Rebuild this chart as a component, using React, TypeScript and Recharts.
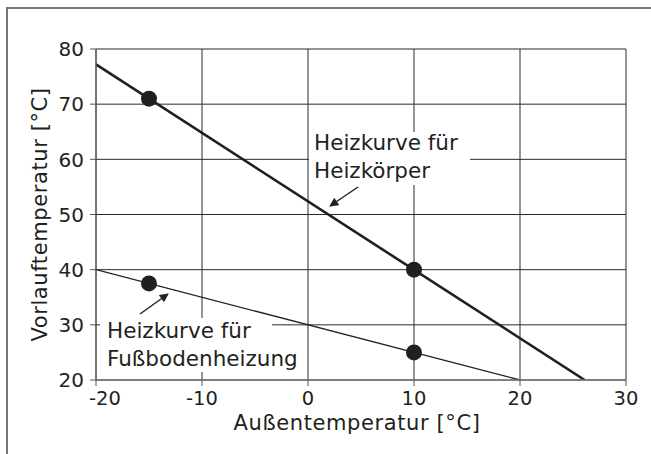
import React from "react";
import {
  CartesianGrid,
  ComposedChart,
  Line,
  Scatter,
  XAxis,
  YAxis,
} from "recharts";

const xTicks = [-20, -10, 0, 10, 20, 30];
const yTicks = [20, 30, 40, 50, 60, 70, 80];

// Heizkurve für Heizkörper (thick line) and its marked points
const radiatorLine = [
  { x: -20, y: 77.2 },
  { x: 26.1, y: 20 },
];
const radiatorPoints = [
  { x: -15, y: 71 },
  { x: 10, y: 40 },
];

// Heizkurve für Fußbodenheizung (thin line) and its marked points
const floorLine = [
  { x: -20, y: 40 },
  { x: 20, y: 20 },
];
const floorPoints = [
  { x: -15, y: 37.5 },
  { x: 10, y: 25 },
];

const FONT = "'DejaVu Sans', sans-serif";
const INK = "#231f20";

function Dot(props: any) {
  const { cx, cy } = props;
  return <circle cx={cx} cy={cy} r={8} fill={INK} />;
}

function XTick(props: any) {
  const { x, y, payload } = props;
  // first label is nudged inwards, as in the original drawing
  const shift = payload.value === -20 ? 9 : 0;
  return (
    <text
      x={x + shift}
      y={y}
      dy="0.71em"
      textAnchor="middle"
      fontFamily={FONT}
      fontSize={19.5}
      fill={INK}
    >
      {payload.value}
    </text>
  );
}

function YTick(props: any) {
  const { x, y, payload } = props;
  return (
    <text
      x={x}
      y={y}
      dy="0.36em"
      textAnchor="end"
      fontFamily={FONT}
      fontSize={20}
      fill={INK}
    >
      {payload.value}
    </text>
  );
}

function Note({
  box,
  textLeft,
  textTop,
  lines,
}: {
  box: [number, number, number, number];
  textLeft: number;
  textTop: number;
  lines: string[];
}) {
  return (
    <>
      <div
        style={{
          position: "absolute",
          left: box[0],
          top: box[1],
          width: box[2],
          height: box[3],
          background: "#fff",
        }}
      />
      <div
        style={{
          position: "absolute",
          left: textLeft,
          top: textTop,
          fontFamily: FONT,
          fontSize: 21.5,
          lineHeight: "28px",
          color: INK,
          whiteSpace: "nowrap",
        }}
      >
        {lines.map((l) => (
          <div key={l}>{l}</div>
        ))}
      </div>
    </>
  );
}

export default function App() {
  return (
    <div
      style={{
        position: "fixed",
        left: 0,
        top: 0,
        width: 651,
        height: 454,
        background: "#fff",
      }}
    >
      <div
        style={{
          position: "absolute",
          left: 6,
          top: 7,
          right: 0,
          bottom: 0,
          borderTop: "2px solid #777",
          borderLeft: "2px solid #777",
        }}
      />
      <ComposedChart
        width={651}
        height={454}
        margin={{ top: 49, right: 25, left: 0, bottom: 0 }}
        style={{ position: "absolute", left: 0, top: 0 }}
      >
        <CartesianGrid stroke="#2a2a2a" strokeWidth={1} />
        <XAxis
          type="number"
          dataKey="x"
          domain={[-20, 30]}
          ticks={xTicks}
          allowDataOverflow
          height={74}
          tick={<XTick />}
          tickSize={6}
          tickMargin={5}
          stroke="#7a7a7a"
          strokeWidth={1.5}
          tickLine={{ stroke: "#555", strokeWidth: 1 }}
          label={{
            content: () => (
              <text
                x={357}
                y={430}
                textAnchor="middle"
                fontFamily={FONT}
                fontSize={21}
                letterSpacing={0.6}
                fill={INK}
              >
                Außentemperatur [°C]
              </text>
            ),
          }}
        />
        <YAxis
          type="number"
          dataKey="y"
          domain={[20, 80]}
          ticks={yTicks}
          allowDataOverflow
          width={96}
          tick={<YTick />}
          tickSize={6}
          tickMargin={6}
          stroke="#555"
          tickLine={{ stroke: "#555" }}
          label={{
            content: ({ viewBox }: any) => {
              const bx = 47;
              const cy = viewBox.y + viewBox.height / 2;
              return (
                <text
                  x={bx}
                  y={cy}
                  transform={`rotate(-90, ${bx}, ${cy})`}
                  textAnchor="middle"
                  fontFamily={FONT}
                  fontSize={21}
                  letterSpacing={0.6}
                  fill={INK}
                >
                  Vorlauftemperatur [°C]
                </text>
              );
            },
          }}
        />
        <Line
          data={radiatorLine}
          dataKey="y"
          stroke={INK}
          strokeWidth={2.6}
          dot={false}
          activeDot={false}
          isAnimationActive={false}
        />
        <Line
          data={floorLine}
          dataKey="y"
          stroke={INK}
          strokeWidth={1.3}
          dot={false}
          activeDot={false}
          isAnimationActive={false}
        />
        <Scatter
          data={radiatorPoints}
          dataKey="y"
          shape={<Dot />}
          isAnimationActive={false}
        />
        <Scatter
          data={floorPoints}
          dataKey="y"
          shape={<Dot />}
          isAnimationActive={false}
        />
      </ComposedChart>
      <Note
        box={[309, 132, 161, 53]}
        textLeft={314}
        textTop={129}
        lines={["Heizkurve für", "Heizkörper"]}
      />
      <Note
        box={[100, 318, 172, 54]}
        textLeft={107}
        textTop={317}
        lines={["Heizkurve für", "Fußbodenheizung"]}
      />
      <svg
        width={651}
        height={454}
        style={{ position: "absolute", left: 0, top: 0, pointerEvents: "none" }}
      >
        <defs>
          <marker
            id="arrow"
            viewBox="0 0 10 10"
            refX="9"
            refY="5"
            markerWidth="10"
            markerHeight="9"
            markerUnits="userSpaceOnUse"
            orient="auto"
          >
            <path d="M0,0 L10,5 L0,10 z" fill={INK} />
          </marker>
        </defs>
        <line
          x1={358}
          y1={187}
          x2={330}
          y2={206}
          stroke={INK}
          strokeWidth={1.4}
          markerEnd="url(#arrow)"
        />
        <line
          x1={140}
          y1={314}
          x2={168}
          y2={294}
          stroke={INK}
          strokeWidth={1.4}
          markerEnd="url(#arrow)"
        />
      </svg>
    </div>
  );
}
